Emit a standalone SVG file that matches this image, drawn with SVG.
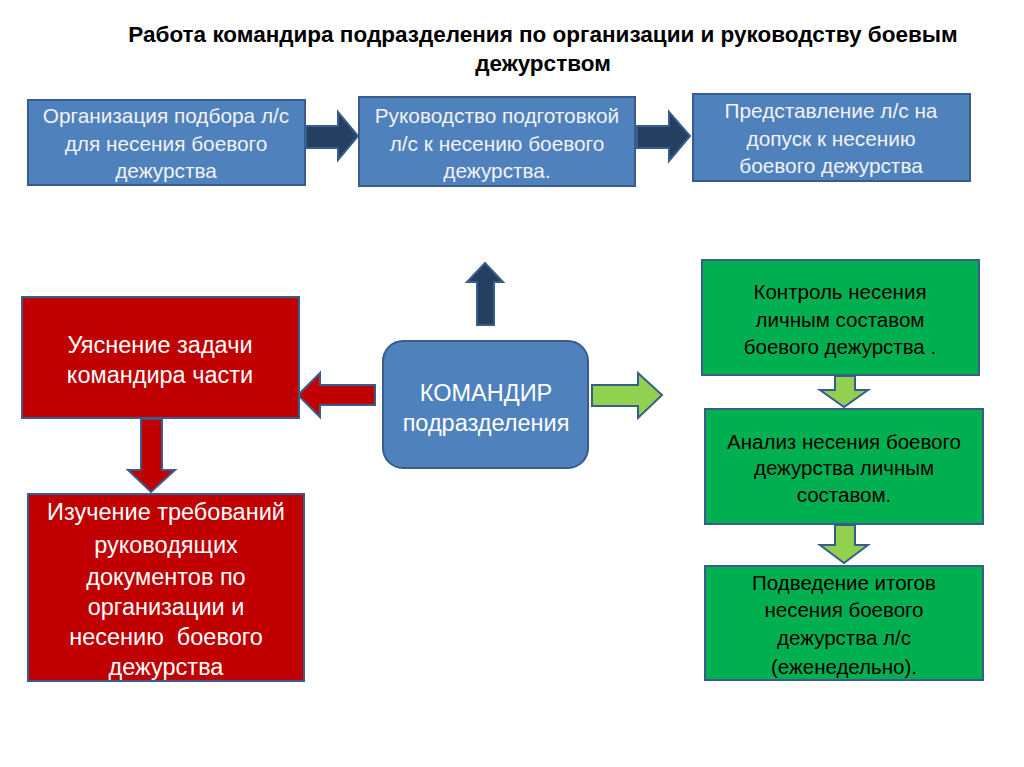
<svg xmlns="http://www.w3.org/2000/svg" width="1024" height="767" viewBox="0 0 1024 767">
<style>
.t{font-family:"Liberation Sans",Arial,sans-serif;text-anchor:middle}
.title{font-family:"Liberation Sans",Arial,sans-serif;font-weight:bold;font-size:22.5px;fill:#000;text-anchor:middle}
.blue{fill:#4F81BD;stroke:#385D8A;stroke-width:2}
.red{fill:#C00000;stroke:#385D8A;stroke-width:2}
.green{fill:#00B050;stroke:#385D8A;stroke-width:2}
.navyA{fill:#243F60;stroke:#385D8A;stroke-width:2}
.redA{fill:#C00000;stroke:#385D8A;stroke-width:2}
.greenA{fill:#92D050;stroke:#385D8A;stroke-width:2}
.wt{fill:#F2F2F2;font-size:20.8px}
.wr{fill:#FFFFFF;font-size:23.5px}
.wc{fill:#FFFFFF;font-size:23.5px}
.bk{fill:#000000;font-size:20.5px}
</style>
<rect x="0" y="0" width="1024" height="767" fill="#FFFFFF"/>
<g id="title">
<text class="title" x="543" y="42">Работа командира подразделения по организации и руководству боевым</text>
<text class="title" x="543" y="71">дежурством</text>
</g>
<g id="connectors">
<path class="navyA" d="M306,126 H338 V112 L358,136 L338,160 V148 H306 Z"/>
<path class="navyA" d="M637,126 H669 V112 L690,136 L669,161 V148 H637 Z"/>
<path class="navyA" d="M477,325 V282 H467 L485,263 L503,282 H494 V325 Z"/>
<path class="redA" d="M375,385 H320 V373 L298,395 L320,417 V405 H375 Z"/>
<path class="greenA" d="M592,385 H638 V373 L662,395 L638,418 V406 H592 Z"/>
<path class="redA" d="M141,419 V470 H128 L151,492 L175,470 H162 V419 Z"/>
<path class="greenA" d="M835,376 V390 H820 L844,407 L868,390 H855 V376 Z"/>
<path class="greenA" d="M835,525 V545 H820 L844,563 L868,545 H855 V525 Z"/>
</g>
<g id="node-org">
<rect class="blue" x="28" y="100" width="277" height="85"/>
<text class="t wt" x="166" y="123">Организация подбора л/с</text>
<text class="t wt" x="166" y="151">для несения боевого</text>
<text class="t wt" x="166" y="178">дежурства</text>
</g>
<g id="node-ruk">
<rect class="blue" x="359" y="97" width="276" height="89"/>
<text class="t wt" x="497" y="123">Руководство подготовкой</text>
<text class="t wt" x="497" y="151">л/с к несению боевого</text>
<text class="t wt" x="497" y="178">дежурства.</text>
</g>
<g id="node-pred">
<rect class="blue" x="693" y="94" width="277" height="87"/>
<text class="t wt" x="831" y="118">Представление л/с на</text>
<text class="t wt" x="831" y="146">допуск к несению</text>
<text class="t wt" x="831" y="173">боевого дежурства</text>
</g>
<g id="node-commander">
<rect class="blue" x="383" y="341" width="205" height="127" rx="20" ry="20"/>
<text class="t wc" x="486" y="401">КОМАНДИР</text>
<text class="t wc" x="486" y="431">подразделения</text>
</g>
<g id="node-task">
<rect class="red" x="22" y="297" width="277" height="121"/>
<text class="t wr" x="160" y="353">Уяснение задачи</text>
<text class="t wr" x="160" y="383">командира части</text>
</g>
<g id="node-docs">
<rect class="red" x="28" y="494" width="276" height="187"/>
<text class="t wr" x="166" y="520">Изучение требований</text>
<text class="t wr" x="166" y="553">руководящих</text>
<text class="t wr" x="166" y="585">документов по</text>
<text class="t wr" x="166" y="615">организации и</text>
<text class="t wr" x="166" y="645">несению&#160; боевого</text>
<text class="t wr" x="166" y="675">дежурства</text>
</g>
<g id="node-control">
<rect class="green" x="702" y="260" width="277" height="115"/>
<text class="t bk" x="840" y="299">Контроль несения</text>
<text class="t bk" x="840" y="327">личным составом</text>
<text class="t bk" x="840" y="354">боевого дежурства .</text>
</g>
<g id="node-analysis">
<rect class="green" x="705" y="409" width="278" height="115"/>
<text class="t bk" x="844" y="449">Анализ несения боевого</text>
<text class="t bk" x="844" y="475">дежурства личным</text>
<text class="t bk" x="844" y="502">составом.</text>
</g>
<g id="node-summary">
<rect class="green" x="705" y="566" width="278" height="114"/>
<text class="t bk" x="844" y="590">Подведение итогов</text>
<text class="t bk" x="844" y="617">несения боевого</text>
<text class="t bk" x="844" y="645">дежурства л/с</text>
<text class="t bk" x="844" y="674">(еженедельно).</text>
</g>
</svg>
